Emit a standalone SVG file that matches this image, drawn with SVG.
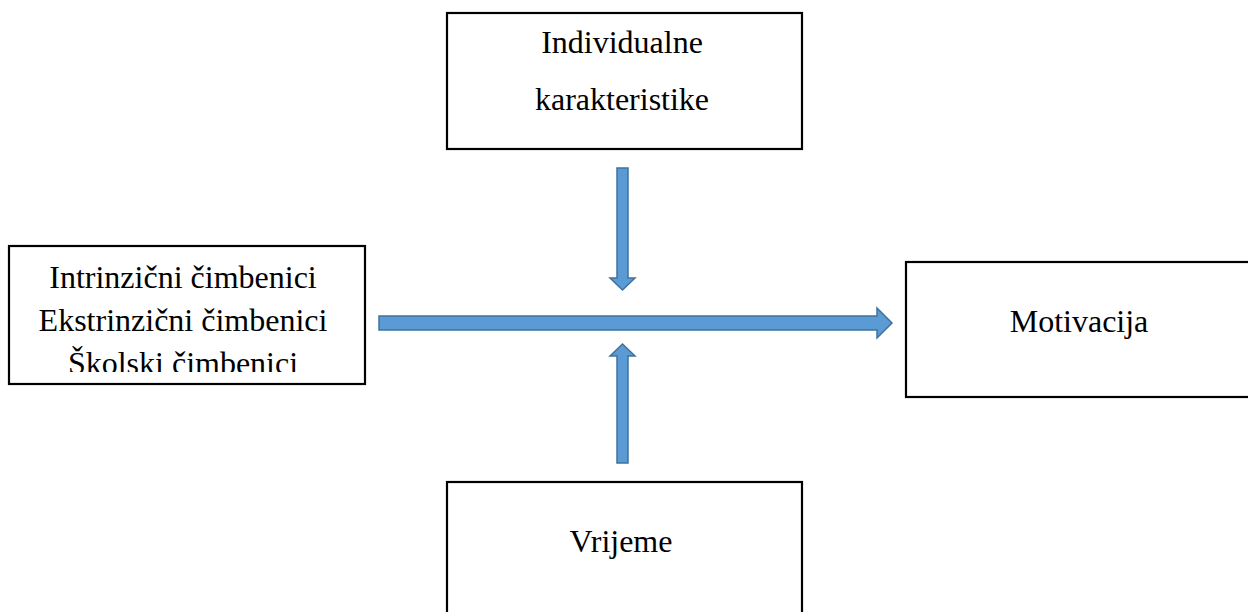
<svg xmlns="http://www.w3.org/2000/svg" width="1248" height="612" viewBox="0 0 1248 612">
<style>
.box{fill:#fff;stroke:#000;stroke-width:2.2}
.t{font-family:"Liberation Serif","Times New Roman",serif;font-size:32px;fill:#000;text-anchor:middle}
.arr{fill:#5b9bd5;stroke:#41719c;stroke-width:1.5}
</style>
<defs>
<clipPath id="clipL"><rect x="9" y="246" width="356" height="126"/></clipPath>
</defs>
<rect width="1248" height="612" fill="#fff"/>
<g id="node-individualne">
<rect class="box" x="447" y="13" width="355" height="136"/>
<text class="t" x="622" y="53">Individualne</text>
<text class="t" x="622" y="110">karakteristike</text>
</g>
<g id="node-cimbenici">
<rect class="box" x="9" y="246" width="356" height="138"/>
<g clip-path="url(#clipL)">
<text class="t" x="183" y="288">Intrinzični čimbenici</text>
<text class="t" x="183" y="331">Ekstrinzični čimbenici</text>
<text class="t" x="183" y="374">Školski čimbenici</text>
</g>
</g>
<g id="node-motivacija">
<rect class="box" x="906" y="262" width="360" height="135"/>
<text class="t" x="1079" y="332">Motivacija</text>
</g>
<g id="node-vrijeme">
<rect class="box" x="447" y="482" width="355" height="150"/>
<text class="t" x="621" y="552">Vrijeme</text>
</g>
<g id="connectors">
<path class="arr" d="M379,316 H877 V308 L892,323 L877,338 V330 H379 Z"/>
<path class="arr" d="M617,168 H628 V278 H635 L622.5,290 L610,278 H617 Z"/>
<path class="arr" d="M617,463 H628 V356 H635 L622.5,344 L610,356 H617 Z"/>
</g>
</svg>
